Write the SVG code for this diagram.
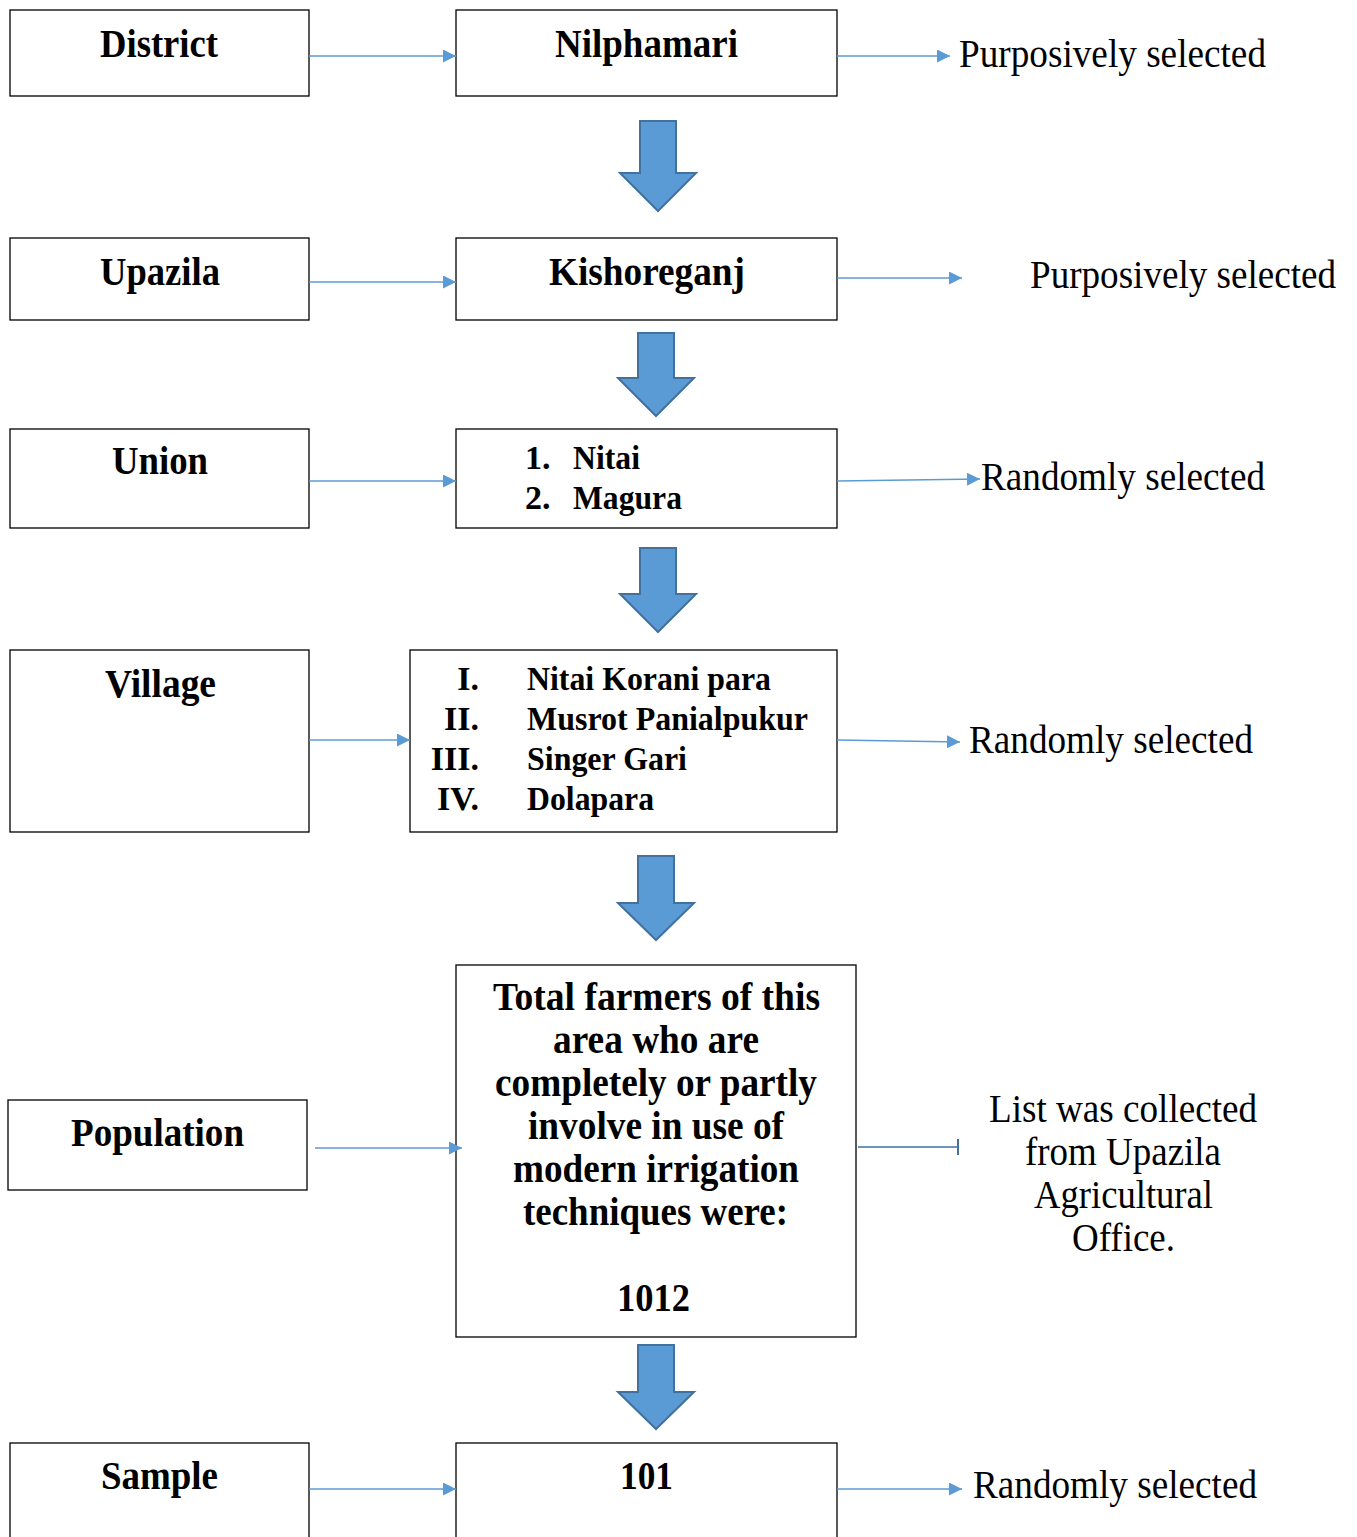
<svg xmlns="http://www.w3.org/2000/svg" width="1357" height="1537" viewBox="0 0 1357 1537">
<defs>
<style>
.box{fill:#fff;stroke:#000;stroke-width:1.3}
.b{font-family:"Liberation Serif","Times New Roman",serif;font-weight:bold;fill:#000}
.r{font-family:"Liberation Serif","Times New Roman",serif;fill:#000}
.t41{font-size:41px}
.t34{font-size:34px}
.t39{font-size:39px}
.con{stroke:#5b9bd5;stroke-width:1.5;fill:none}
.blk{fill:#5b9bd5;stroke:#41719c;stroke-width:2}
</style>
<marker id="ah" viewBox="0 0 10 10" refX="10" refY="5" markerWidth="13" markerHeight="13" markerUnits="userSpaceOnUse" orient="auto">
<path d="M0,0 L10,5 L0,10 z" fill="#5b9bd5"/>
</marker>
<marker id="tick" viewBox="0 0 4 16" refX="2" refY="8" markerWidth="4" markerHeight="16" markerUnits="userSpaceOnUse" orient="auto">
<path d="M2,0 L2,16" stroke="#41719c" stroke-width="2"/>
</marker>
</defs>

<g id="district">
<rect class="box" x="10" y="10" width="299" height="86"/>
<text class="b t41" x="100" y="57" textLength="118" lengthAdjust="spacingAndGlyphs">District</text>
</g>
<g id="nilphamari">
<rect class="box" x="456" y="10" width="381" height="86"/>
<text class="b t41" x="555" y="57" textLength="183" lengthAdjust="spacingAndGlyphs">Nilphamari</text>
</g>
<g id="label-purposive-1">
<text class="r t39" x="959" y="67" textLength="307" lengthAdjust="spacingAndGlyphs">Purposively selected</text>
</g>

<g id="upazila">
<rect class="box" x="10" y="238" width="299" height="82"/>
<text class="b t41" x="100" y="285" textLength="120" lengthAdjust="spacingAndGlyphs">Upazila</text>
</g>
<g id="kishoreganj">
<rect class="box" x="456" y="238" width="381" height="82"/>
<text class="b t41" x="549" y="285" textLength="196" lengthAdjust="spacingAndGlyphs">Kishoreganj</text>
</g>
<g id="label-purposive-2">
<text class="r t39" x="1030" y="288" textLength="306" lengthAdjust="spacingAndGlyphs">Purposively selected</text>
</g>

<g id="union">
<rect class="box" x="10" y="429" width="299" height="99"/>
<text class="b t41" x="112" y="474" textLength="96" lengthAdjust="spacingAndGlyphs">Union</text>
</g>
<g id="unions">
<rect class="box" x="456" y="429" width="381" height="99"/>
<text class="b t34" x="525" y="469">1.</text>
<text class="b t34" x="573" y="469" textLength="67" lengthAdjust="spacingAndGlyphs">Nitai</text>
<text class="b t34" x="525" y="509">2.</text>
<text class="b t34" x="573" y="509" textLength="109" lengthAdjust="spacingAndGlyphs">Magura</text>
</g>
<g id="label-random-1">
<text class="r t39" x="981" y="490" textLength="284" lengthAdjust="spacingAndGlyphs">Randomly selected</text>
</g>

<g id="village">
<rect class="box" x="10" y="650" width="299" height="182"/>
<text class="b t41" x="105" y="697" textLength="111" lengthAdjust="spacingAndGlyphs">Village</text>
</g>
<g id="villages">
<rect class="box" x="410" y="650" width="427" height="182"/>
<g text-anchor="end">
<text class="b t34" x="479" y="690">I.</text>
<text class="b t34" x="479" y="730">II.</text>
<text class="b t34" x="479" y="770">III.</text>
<text class="b t34" x="479" y="810">IV.</text>
</g>
<text class="b t34" x="527" y="690" textLength="244" lengthAdjust="spacingAndGlyphs">Nitai Korani para</text>
<text class="b t34" x="527" y="730" textLength="281" lengthAdjust="spacingAndGlyphs">Musrot Panialpukur</text>
<text class="b t34" x="527" y="770" textLength="160" lengthAdjust="spacingAndGlyphs">Singer Gari</text>
<text class="b t34" x="527" y="810" textLength="127" lengthAdjust="spacingAndGlyphs">Dolapara</text>
</g>
<g id="label-random-2">
<text class="r t39" x="969" y="753" textLength="284" lengthAdjust="spacingAndGlyphs">Randomly selected</text>
</g>

<g id="population">
<rect class="box" x="8" y="1100" width="299" height="90"/>
<text class="b t41" x="71" y="1146" textLength="173" lengthAdjust="spacingAndGlyphs">Population</text>
</g>
<g id="farmers">
<rect class="box" x="456" y="965" width="400" height="372"/>
<text class="b t39" x="493" y="1010" textLength="327" lengthAdjust="spacingAndGlyphs">Total farmers of this</text>
<text class="b t39" x="553" y="1053" textLength="206" lengthAdjust="spacingAndGlyphs">area who are</text>
<text class="b t39" x="495" y="1096" textLength="322" lengthAdjust="spacingAndGlyphs">completely or partly</text>
<text class="b t39" x="528" y="1139" textLength="256" lengthAdjust="spacingAndGlyphs">involve in use of</text>
<text class="b t39" x="513" y="1182" textLength="286" lengthAdjust="spacingAndGlyphs">modern irrigation</text>
<text class="b t39" x="523" y="1225" textLength="265" lengthAdjust="spacingAndGlyphs">techniques were:</text>
<text class="b t39" x="617" y="1311" textLength="73" lengthAdjust="spacingAndGlyphs">1012</text>
</g>
<g id="label-list">
<text class="r t39" x="989" y="1122" textLength="268" lengthAdjust="spacingAndGlyphs">List was collected</text>
<text class="r t39" x="1025" y="1165" textLength="196" lengthAdjust="spacingAndGlyphs">from Upazila</text>
<text class="r t39" x="1034" y="1208" textLength="179" lengthAdjust="spacingAndGlyphs">Agricultural</text>
<text class="r t39" x="1072" y="1251" textLength="103" lengthAdjust="spacingAndGlyphs">Office.</text>
</g>

<g id="sample">
<rect class="box" x="10" y="1443" width="299" height="110"/>
<text class="b t41" x="101" y="1489" textLength="117" lengthAdjust="spacingAndGlyphs">Sample</text>
</g>
<g id="sample-size">
<rect class="box" x="456" y="1443" width="381" height="110"/>
<text class="b t41" x="620" y="1489" textLength="53" lengthAdjust="spacingAndGlyphs">101</text>
</g>
<g id="label-random-3">
<text class="r t39" x="973" y="1498" textLength="284" lengthAdjust="spacingAndGlyphs">Randomly selected</text>
</g>

<g id="connectors">
<line class="con" x1="309" y1="56" x2="456" y2="56" marker-end="url(#ah)"/>
<line class="con" x1="837" y1="56" x2="950" y2="56" marker-end="url(#ah)"/>
<line class="con" x1="309" y1="282" x2="456" y2="282" marker-end="url(#ah)"/>
<line class="con" x1="837" y1="278" x2="962" y2="278" marker-end="url(#ah)"/>
<line class="con" x1="309" y1="481" x2="456" y2="481" marker-end="url(#ah)"/>
<line class="con" x1="837" y1="481" x2="980" y2="479" marker-end="url(#ah)"/>
<line class="con" x1="309" y1="740" x2="410" y2="740" marker-end="url(#ah)"/>
<line class="con" x1="837" y1="740" x2="960" y2="742" marker-end="url(#ah)"/>
<line class="con" x1="315" y1="1148" x2="462" y2="1148" marker-end="url(#ah)"/>
<line x1="858" y1="1147" x2="958" y2="1147" stroke="#41719c" stroke-width="1.5" marker-end="url(#tick)"/>
<line class="con" x1="309" y1="1489" x2="456" y2="1489" marker-end="url(#ah)"/>
<line class="con" x1="837" y1="1489" x2="962" y2="1489" marker-end="url(#ah)"/>
<path class="blk" d="M640,121 H676 V173 H696 L658,211 L620,173 H640 Z"/>
<path class="blk" d="M638,333 H674 V378 H694 L656,416 L618,378 H638 Z"/>
<path class="blk" d="M640,548 H676 V594 H696 L658,632 L620,594 H640 Z"/>
<path class="blk" d="M638,856 H674 V903 H694 L656,940 L618,903 H638 Z"/>
<path class="blk" d="M638,1345 H674 V1392 H694 L656,1429 L618,1392 H638 Z"/>
</g>
</svg>
